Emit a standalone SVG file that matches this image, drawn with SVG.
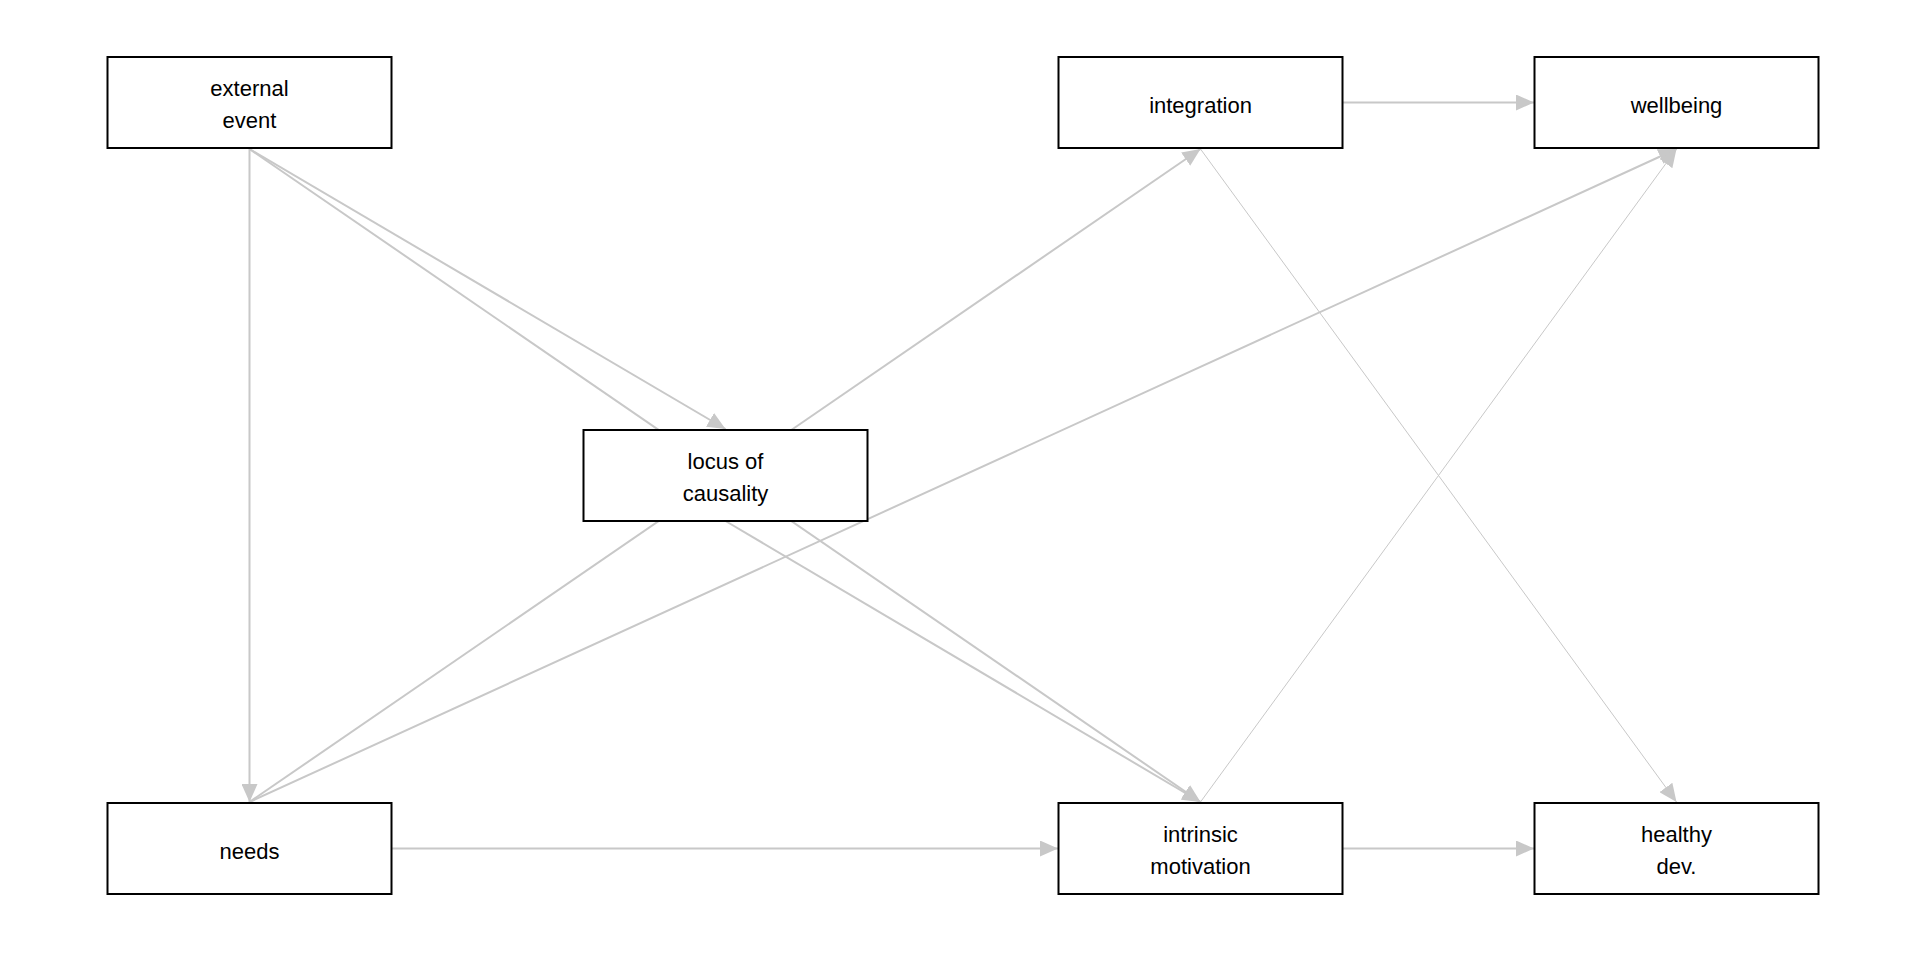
<svg xmlns="http://www.w3.org/2000/svg" width="1920" height="960" viewBox="0 0 1920 960">
<style>
.node rect{fill:#ffffff;stroke:#000000;stroke-width:2}
.node text{font-family:"Liberation Sans",Arial,sans-serif;font-size:22px;fill:#000000;text-anchor:middle}
.edge{stroke:#c8c8c8;stroke-width:2;fill:none;marker-end:url(#arr)}
.edge.thin{stroke-width:1}
</style>
<defs>
<marker id="arr" markerUnits="userSpaceOnUse" markerWidth="18" markerHeight="16" viewBox="0 0 18 16" refX="18" refY="8" orient="auto">
<path d="M0,0 L18,8 L0,16 Z" fill="#c8c8c8"/>
</marker>
</defs>
<rect width="1920" height="960" fill="#ffffff"/>
<g id="edges">
<line class="edge" x1="249.5" y1="149" x2="249.5" y2="802"/>
<line class="edge" x1="249.5" y1="149" x2="725.5" y2="429"/>
<line class="edge" x1="249.5" y1="149" x2="1200.5" y2="802"/>
<line class="edge" x1="249.5" y1="802" x2="1200.5" y2="149"/>
<line class="edge" x1="249.5" y1="802" x2="1676.5" y2="149"/>
<line class="edge" x1="725.5" y1="521" x2="1200.5" y2="802"/>
<line class="edge" x1="392" y1="848.5" x2="1058" y2="848.5"/>
<line class="edge" x1="1343" y1="102.5" x2="1534" y2="102.5"/>
<line class="edge" x1="1343" y1="848.5" x2="1534" y2="848.5"/>
<line class="edge thin" x1="1200.5" y1="149" x2="1676.5" y2="802"/>
<line class="edge thin" x1="1200.5" y1="802" x2="1676.5" y2="149"/>
</g>
<g id="external_event" class="node">
<rect x="107.5" y="57" width="284" height="91"/>
<text x="249.5" y="95.5">external</text>
<text x="249.5" y="128">event</text>
</g>
<g id="locus_of_causality" class="node">
<rect x="583.5" y="430" width="284" height="91"/>
<text x="725.5" y="468.5">locus of</text>
<text x="725.5" y="501">causality</text>
</g>
<g id="integration" class="node">
<rect x="1058.5" y="57" width="284" height="91"/>
<text x="1200.5" y="112.5">integration</text>
</g>
<g id="wellbeing" class="node">
<rect x="1534.5" y="57" width="284" height="91"/>
<text x="1676.5" y="112.5">wellbeing</text>
</g>
<g id="needs" class="node">
<rect x="107.5" y="803" width="284" height="91"/>
<text x="249.5" y="858.5">needs</text>
</g>
<g id="intrinsic_motivation" class="node">
<rect x="1058.5" y="803" width="284" height="91"/>
<text x="1200.5" y="841.5">intrinsic</text>
<text x="1200.5" y="874">motivation</text>
</g>
<g id="healthy_dev" class="node">
<rect x="1534.5" y="803" width="284" height="91"/>
<text x="1676.5" y="841.5">healthy</text>
<text x="1676.5" y="874">dev.</text>
</g>
</svg>
